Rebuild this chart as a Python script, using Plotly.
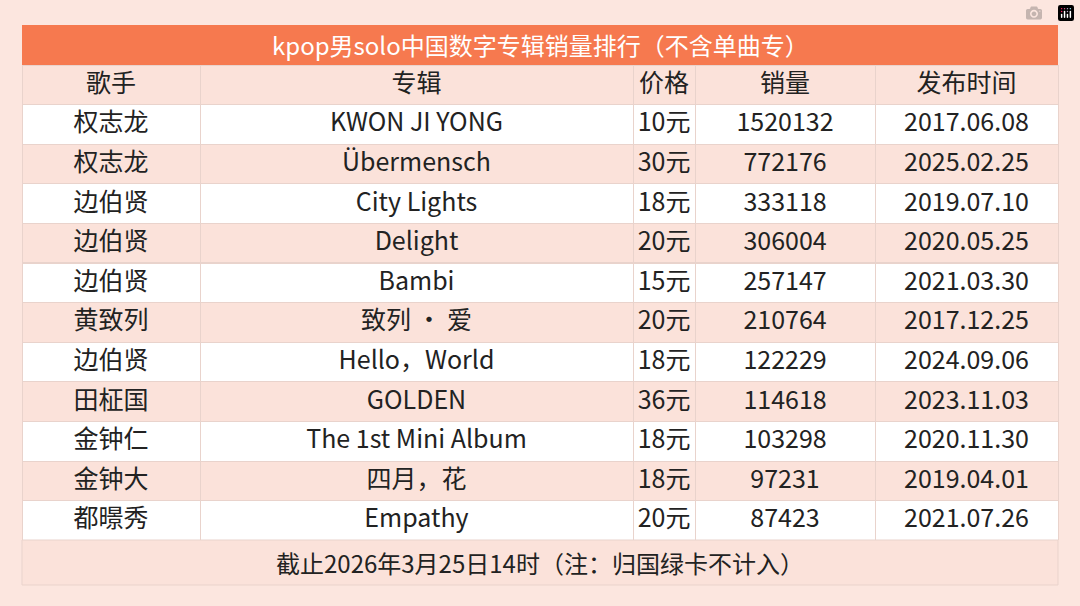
import plotly.graph_objects as go

singers = ["权志龙","权志龙","边伯贤","边伯贤","边伯贤","黄致列","边伯贤","田柾国","金钟仁","金钟大","都暻秀"]
albums = ["KWON JI YONG","Übermensch","City Lights","Delight","Bambi","致列 · 爱","Hello，World","GOLDEN","The 1st Mini Album","四月，花","Empathy"]
prices = ["10元","30元","18元","20元","15元","20元","18元","36元","18元","18元","20元"]
sales = [1520132,772176,333118,306004,257147,210764,122229,114618,103298,97231,87423]
dates = ["2017.06.08","2025.02.25","2019.07.10","2020.05.25","2021.03.30","2017.12.25","2024.09.06","2023.11.03","2020.11.30","2019.04.01","2021.07.26"]
headers = ["歌手","专辑","价格","销量","发布时间"]
title = "kpop男solo中国数字专辑销量排行（不含单曲专）"
footer = "截止2026年3月25日14时（注：归国绿卡不计入）"

W, H = 1080, 606
BG = "#FCE6DF"; ORANGE = "#F6794F"; PINK = "#FBE2DA"; LINE = "#E9D3CC"
fills = ["white" if i % 2 == 0 else PINK for i in range(len(singers))]
font = "Noto Sans CJK SC"

fig = go.Figure(go.Table(
    domain=dict(x=[22/W, 1058/W], y=[1-540/H, 1-65/H]),
    columnwidth=[178, 433, 62, 180, 183],
    header=dict(values=headers, fill_color=PINK, line_color=LINE, height=39.6,
                align="center", font=dict(family=font, size=25, color="#222")),
    cells=dict(values=[singers, albums, prices, [str(s) for s in sales], dates],
               fill_color=[fills]*5, line_color=LINE, height=39.6,
               align="center", font=dict(family=font, size=25, color="#222")),
))
fig.add_shape(type="rect", xref="paper", yref="paper", x0=22/W, x1=1058/W,
              y0=1-65/H, y1=1-25/H, fillcolor=ORANGE, line_width=0, layer="above")
fig.add_annotation(text=title, xref="paper", yref="paper", x=0.5, y=1-45/H,
                   yanchor="middle", showarrow=False,
                   font=dict(family=font, size=24, color="white"))
fig.add_shape(type="rect", xref="paper", yref="paper", x0=22/W, x1=1058/W,
              y0=1-585/H, y1=1-540/H, fillcolor=PINK, line=dict(color=LINE, width=1), layer="above")
fig.add_annotation(text=footer, xref="paper", yref="paper", x=0.5, y=1-562/H,
                   yanchor="middle", showarrow=False,
                   font=dict(family=font, size=24, color="#222"))
fig.update_layout(width=W, height=H, margin=dict(l=0, r=0, t=0, b=0),
                  paper_bgcolor=BG, plot_bgcolor=BG)
fig.write_html("out.html", post_script="document.body.style.margin='0';document.body.style.background='%s';" % BG)
